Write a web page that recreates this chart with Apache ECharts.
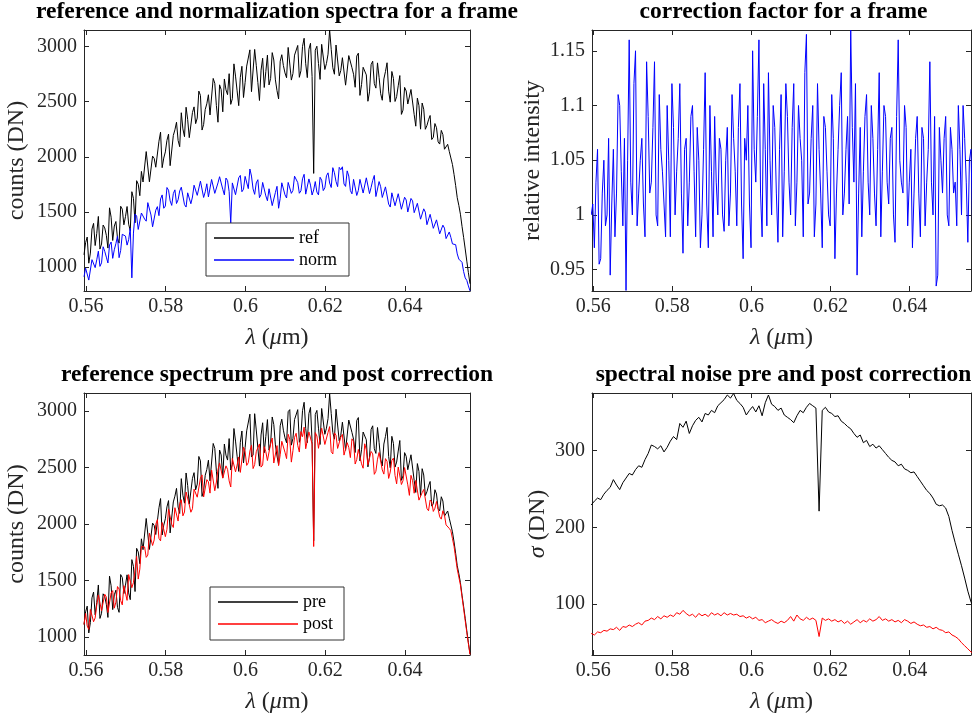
<!DOCTYPE html>
<html>
<head>
<meta charset="utf-8">
<title>spectra</title>
<script src="https://cdn.jsdelivr.net/npm/echarts@6/dist/echarts.min.js"></script>
<style>
  html, body { margin: 0; padding: 0; background: #fff; }
  #chart { width: 974px; height: 716px; }
</style>
</head>
<body>
<div id="chart"></div>
<script>
// wavelength samples (um) of the spectra
const lambdaFine = [
  0.5595, 0.5599, 0.5603, 0.5607, 0.5611, 0.5615, 0.5619, 0.5623, 0.5627, 0.5631,
  0.5635, 0.5639, 0.5643, 0.5647, 0.5651, 0.5655, 0.5659, 0.5663, 0.5667, 0.5671,
  0.5675, 0.5679, 0.5683, 0.5687, 0.5691, 0.5695, 0.5699, 0.5703, 0.5707, 0.5711,
  0.5715, 0.5719, 0.5723, 0.5727, 0.5731, 0.5735, 0.5739, 0.5743, 0.5747, 0.5751,
  0.5755, 0.5759, 0.5763, 0.5767, 0.5771, 0.5775, 0.5779, 0.5783, 0.5787, 0.5791,
  0.5795, 0.5799, 0.5803, 0.5807, 0.5811, 0.5815, 0.5819, 0.5823, 0.5827, 0.5831,
  0.5835, 0.5839, 0.5843, 0.5847, 0.5851, 0.5855, 0.5859, 0.5863, 0.5867, 0.5871,
  0.5875, 0.5879, 0.5883, 0.5887, 0.5891, 0.5895, 0.5899, 0.5903, 0.5907, 0.5911,
  0.5915, 0.5919, 0.5923, 0.5927, 0.5931, 0.5935, 0.5939, 0.5943, 0.5947, 0.5951,
  0.5955, 0.5959, 0.5963, 0.5967, 0.5971, 0.5975, 0.5979, 0.5983, 0.5987, 0.5991,
  0.5995, 0.5999, 0.6003, 0.6007, 0.6011, 0.6015, 0.6019, 0.6023, 0.6027, 0.6031,
  0.6035, 0.6039, 0.6043, 0.6047, 0.6051, 0.6055, 0.6059, 0.6063, 0.6067, 0.6071,
  0.6075, 0.6079, 0.6083, 0.6087, 0.6091, 0.6095, 0.6099, 0.6103, 0.6107, 0.6111,
  0.6115, 0.6119, 0.6123, 0.6127, 0.6131, 0.6135, 0.6139, 0.6143, 0.6147, 0.6151,
  0.6155, 0.6159, 0.6163, 0.6167, 0.6171, 0.6175, 0.6179, 0.6183, 0.6187, 0.6191,
  0.6195, 0.6199, 0.6203, 0.6207, 0.6211, 0.6215, 0.6219, 0.6223, 0.6227, 0.6231,
  0.6235, 0.6239, 0.6243, 0.6247, 0.6251, 0.6255, 0.6259, 0.6263, 0.6267, 0.6271,
  0.6275, 0.6279, 0.6283, 0.6287, 0.6291, 0.6295, 0.6299, 0.6303, 0.6307, 0.6311,
  0.6315, 0.6319, 0.6323, 0.6327, 0.6331, 0.6335, 0.6339, 0.6343, 0.6347, 0.6351,
  0.6355, 0.6359, 0.6363, 0.6367, 0.6371, 0.6375, 0.6379, 0.6383, 0.6387, 0.6391,
  0.6395, 0.6399, 0.6403, 0.6407, 0.6411, 0.6415, 0.6419, 0.6423, 0.6427, 0.6431,
  0.6435, 0.6439, 0.6443, 0.6447, 0.6451, 0.6455, 0.6459, 0.6463, 0.6467, 0.6471,
  0.6475, 0.6479, 0.6483, 0.6487, 0.6491, 0.6495, 0.6499, 0.6503, 0.6507, 0.6511,
  0.6515, 0.6519, 0.6523, 0.6527, 0.6531, 0.6535, 0.6539, 0.6543, 0.6547, 0.6551,
  0.6555, 0.6559, 0.6563
];

// wavelength samples (um) of the noise curves
const lambdaNoise = [
  0.5595, 0.5603, 0.5611, 0.5619, 0.5627, 0.5635, 0.5643, 0.5651, 0.5659, 0.5667,
  0.5675, 0.5683, 0.5691, 0.5699, 0.5707, 0.5715, 0.5723, 0.5731, 0.5739, 0.5747,
  0.5755, 0.5763, 0.5771, 0.5779, 0.5787, 0.5795, 0.5803, 0.5811, 0.5819, 0.5827,
  0.5835, 0.5843, 0.5851, 0.5859, 0.5867, 0.5875, 0.5883, 0.5891, 0.5899, 0.5907,
  0.5915, 0.5923, 0.5931, 0.5939, 0.5947, 0.5955, 0.5963, 0.5971, 0.5979, 0.5987,
  0.5995, 0.6003, 0.6011, 0.6019, 0.6027, 0.6035, 0.6043, 0.6051, 0.6059, 0.6067,
  0.6075, 0.6083, 0.6091, 0.6099, 0.6107, 0.6115, 0.6123, 0.6131, 0.6139, 0.6147,
  0.6155, 0.6163, 0.6171, 0.6179, 0.6187, 0.6195, 0.6203, 0.6211, 0.6219, 0.6227,
  0.6235, 0.6243, 0.6251, 0.6259, 0.6267, 0.6275, 0.6283, 0.6291, 0.6299, 0.6307,
  0.6315, 0.6323, 0.6331, 0.6339, 0.6347, 0.6355, 0.6363, 0.6371, 0.6379, 0.6387,
  0.6395, 0.6403, 0.6411, 0.6419, 0.6427, 0.6435, 0.6443, 0.6451, 0.6459, 0.6467,
  0.6475, 0.6483, 0.6491, 0.6499, 0.6507, 0.6515, 0.6523, 0.6531, 0.6539, 0.6547,
  0.6555, 0.6563
];

// reference spectrum (also "pre" in the lower plot)
const refCounts = [
  1112, 1222, 1273, 1036, 1128, 1346, 1397, 1196, 1306, 1460, 1164, 1210, 1382, 1356, 1289, 1173, 1538, 1453, 1242, 1373,
  1414, 1262, 1218, 1552, 1526, 1384, 1458, 1550, 1390, 1330, 1684, 1624, 1402, 1784, 1752, 1648, 1868, 1772, 1766, 2048,
  2042, 1774, 1771, 2007, 1986, 1906, 1898, 2142, 2224, 1902, 1989, 2045, 2150, 2206, 1920, 1922, 2194, 2245, 2314, 2149,
  2092, 2400, 2253, 2183, 2450, 2339, 2174, 2171, 2402, 2453, 2301, 2352, 2596, 2557, 2243, 2294, 2430, 2481, 2563, 2380,
  2390, 2711, 2667, 2466, 2314, 2653, 2609, 2408, 2706, 2608, 2564, 2754, 2476, 2527, 2843, 2732, 2598, 2464, 2721, 2821,
  2538, 2674, 2823, 2815, 2970, 2591, 2609, 2974, 2830, 2673, 2511, 2786, 2894, 2629, 2773, 2922, 2652, 2711, 2945, 2878,
  2698, 2600, 2525, 2867, 2926, 2828, 2761, 2717, 2992, 3010, 2696, 2755, 2922, 2909, 3010, 2721, 2780, 3001, 3075, 2844,
  2718, 2975, 3030, 2728, 1850, 2967, 3003, 2846, 2702, 3020, 3030, 2792, 2846, 2931, 3150, 2975, 2808, 2749, 3014, 3000,
  2734, 2783, 2899, 2894, 2650, 2658, 2918, 2908, 2808, 2749, 2631, 2914, 2940, 2557, 2655, 2812, 2802, 2743, 2504, 2589,
  2836, 2867, 2664, 2623, 2852, 2721, 2572, 2513, 2706, 2773, 2853, 2596, 2496, 2774, 2710, 2502, 2546, 2644, 2737, 2385,
  2424, 2630, 2597, 2479, 2482, 2611, 2614, 2383, 2278, 2533, 2464, 2251, 2488, 2432, 2250, 2284, 2336, 2375, 2157, 2178,
  2302, 2264, 2136, 2116, 2240, 2202, 2069, 2067, 2114, 2050, 1990, 1930, 1840, 1740, 1630, 1560, 1480, 1370, 1270, 1165,
  1055, 950, 850
];

// normalization spectrum
const normCounts = [
  913, 991, 989, 883, 878, 1068, 1083, 996, 1067, 1145, 1007, 1039, 1185, 1144, 1091, 1038, 1201, 1228, 1080, 1158,
  1214, 1280, 1086, 1152, 1298, 1301, 1282, 1200, 1249, 1354, 903, 1309, 1482, 1463, 1342, 1340, 1491, 1489, 1436, 1417,
  1585, 1597, 1473, 1366, 1378, 1517, 1549, 1467, 1618, 1655, 1534, 1554, 1722, 1698, 1601, 1560, 1667, 1701, 1577, 1611,
  1691, 1725, 1720, 1567, 1545, 1674, 1684, 1575, 1636, 1743, 1748, 1651, 1639, 1780, 1797, 1632, 1683, 1756, 1637, 1625,
  1795, 1783, 1669, 1674, 1764, 1820, 1803, 1706, 1655, 1808, 1786, 1684, 1400, 1764, 1776, 1657, 1652, 1810, 1832, 1684,
  1706, 1823, 1833, 1712, 1890, 1826, 1709, 1660, 1764, 1793, 1630, 1659, 1768, 1775, 1646, 1602, 1711, 1711, 1558, 1575,
  1677, 1733, 1534, 1624, 1765, 1770, 1656, 1627, 1768, 1761, 1669, 1696, 1825, 1813, 1767, 1670, 1692, 1801, 1842, 1662,
  1669, 1800, 1744, 1654, 1700, 1776, 1681, 1655, 1815, 1789, 1694, 1719, 1828, 1855, 1763, 1722, 1902, 1856, 1776, 1730,
  1905, 1883, 1910, 1754, 1732, 1873, 1826, 1695, 1665, 1796, 1808, 1650, 1696, 1796, 1810, 1672, 1669, 1810, 1798, 1667,
  1723, 1786, 1832, 1640, 1652, 1776, 1729, 1632, 1619, 1728, 1718, 1572, 1545, 1674, 1666, 1557, 1566, 1666, 1663, 1525,
  1539, 1634, 1609, 1500, 1492, 1623, 1601, 1494, 1506, 1579, 1583, 1435, 1439, 1529, 1499, 1385, 1372, 1479, 1466, 1352,
  1356, 1429, 1416, 1302, 1289, 1381, 1354, 1259, 1266, 1319, 1270, 1211, 1220, 1204, 1120, 1073, 1060, 1044, 960, 903,
  880, 830, 785
];

// reference spectrum after correction
const postCounts = [
  1110, 1208, 1097, 1067, 1244, 1246, 1135, 1169, 1282, 1372, 1366, 1232, 1226, 1378, 1353, 1217, 1208, 1389, 1410, 1255,
  1308, 1446, 1424, 1322, 1284, 1454, 1448, 1324, 1552, 1550, 1436, 1482, 1592, 1712, 1512, 1600, 1800, 1798, 1796, 1704,
  1724, 1918, 1919, 1809, 1858, 1996, 2038, 1872, 1850, 2012, 2013, 1887, 1952, 2132, 2136, 1996, 1968, 2143, 2142, 2025,
  2180, 2214, 2071, 2105, 2282, 2265, 2168, 2103, 2134, 2307, 2319, 2236, 2232, 2405, 2433, 2238, 2250, 2391, 2371, 2272,
  2476, 2473, 2293, 2370, 2478, 2539, 2535, 2404, 2416, 2513, 2482, 2380, 2326, 2579, 2591, 2460, 2520, 2592, 2455, 2447,
  2678, 2638, 2517, 2541, 2644, 2695, 2489, 2524, 2638, 2641, 2707, 2502, 2520, 2683, 2637, 2560, 2546, 2709, 2759, 2538,
  2524, 2692, 2515, 2611, 2730, 2738, 2633, 2577, 2792, 2749, 2546, 2647, 2764, 2801, 2694, 2635, 2816, 2771, 2855, 2664,
  2666, 2813, 2815, 2706, 1800, 2807, 2777, 2668, 2654, 2846, 2850, 2702, 2702, 2809, 2860, 2639, 2618, 2805, 2784, 2667,
  2678, 2767, 2791, 2608, 2600, 2718, 2676, 2586, 2752, 2729, 2529, 2570, 2658, 2667, 2531, 2492, 2708, 2655, 2522, 2533,
  2640, 2619, 2438, 2465, 2572, 2631, 2626, 2477, 2440, 2577, 2553, 2402, 2458, 2560, 2582, 2428, 2354, 2502, 2489, 2348,
  2382, 2498, 2485, 2345, 2252, 2429, 2382, 2271, 2384, 2385, 2210, 2227, 2276, 2304, 2316, 2136, 2116, 2211, 2193, 2110,
  2138, 2198, 2194, 2062, 2042, 2116, 2077, 1991, 1984, 1960, 1940, 1870, 1800, 1700, 1600, 1530, 1460, 1355, 1250, 1145,
  1040, 940, 845
];

// correction factor
const corrFactor = [
  1.00, 1.01, 0.97, 1.03, 1.06, 0.955, 0.96, 1.02, 1.05, 0.99, 1.00, 1.07, 0.945, 1.01, 1.06, 0.98, 1.02, 1.11, 1.10, 1.04,
  0.99, 1.07, 0.931, 1.05, 1.16, 1.03, 1.00, 1.12, 1.15, 0.99, 1.02, 1.05, 1.07, 1.01, 0.98, 1.14, 1.09, 1.02, 1.03, 1.08,
  1.14, 1.00, 0.99, 1.11, 1.06, 1.04, 1.01, 0.98, 1.10, 1.05, 0.98, 1.12, 1.08, 1.00, 1.04, 1.07, 1.12, 1.02, 0.965, 1.06,
  1.07, 0.99, 1.03, 1.09, 1.10, 1.04, 0.98, 1.08, 1.05, 0.97, 1.00, 1.06, 1.13, 1.01, 0.97, 1.10, 1.04, 0.98, 1.09, 1.03,
  1.00, 1.07, 1.06, 1.00, 0.985, 1.05, 1.08, 0.99, 1.02, 1.11, 1.07, 1.04, 0.99, 1.08, 1.12, 1.01, 0.96, 1.07, 1.05, 1.10,
  1.01, 0.97, 1.15, 1.06, 1.03, 1.09, 1.16, 1.02, 0.98, 1.12, 1.06, 0.99, 1.13, 1.05, 1.00, 1.10, 1.08, 1.02, 0.975, 1.06,
  1.11, 0.98, 1.04, 1.12, 1.09, 1.03, 1.00, 1.08, 1.12, 0.99, 1.03, 1.10, 1.07, 1.05, 0.98, 1.13, 1.165, 1.01, 1.02, 1.07,
  1.10, 0.98, 1.01, 1.12, 1.06, 1.02, 0.97, 1.09, 1.08, 1.04, 1.00, 0.99, 1.11, 1.07, 0.96, 1.02, 1.06, 1.10, 1.13, 1.00,
  1.02, 1.06, 1.09, 1.01, 1.169, 1.08, 1.03, 1.12, 0.945, 1.02, 1.08, 0.98, 1.04, 1.09, 1.11, 1.03, 1.00, 1.10, 1.07, 1.02,
  0.99, 1.06, 1.13, 0.98, 1.04, 1.10, 1.09, 1.03, 1.01, 1.07, 1.08, 1.00, 0.975, 1.09, 1.16, 1.05, 1.03, 1.02, 1.10, 1.08,
  0.99, 1.03, 1.06, 0.97, 1.02, 1.07, 1.09, 1.02, 0.98, 1.08, 1.07, 0.99, 1.03, 1.06, 1.14, 1.03, 1.00, 1.09, 0.935, 0.945,
  1.08, 1.05, 1.02, 1.07, 1.09, 1.00, 0.99, 1.08, 1.06, 1.02, 1.03, 0.99, 1.10, 1.06, 1.00, 1.10, 1.07, 1.03, 0.975, 1.05,
  1.06, 0.99, 1.03
];

// spectral noise before / after correction (DN)
const sigmaPre = [
  229, 234, 238, 236, 243, 248, 252, 262, 255, 249,
  258, 264, 270, 268, 275, 280, 278, 288, 296, 307,
  305, 302, 306, 298, 304, 312, 318, 314, 335, 330,
  338, 322, 332, 339, 343, 337, 348, 346, 352, 349,
  358, 362, 366, 372, 368, 374, 365, 361, 356, 346,
  352, 357, 350, 358, 345, 362, 372, 360, 357, 352,
  355, 346, 343, 340, 336, 345, 352, 349, 356, 361,
  358, 355, 221, 352, 356, 350, 348, 344, 345, 338,
  335, 331, 328, 322, 317, 320, 310, 313, 305, 308,
  303, 306, 301, 296, 291, 287, 285, 280, 282, 276,
  274, 271, 272, 266, 260, 254, 248, 244, 238, 230,
  228, 229, 225, 214, 196, 180, 165, 150, 134, 117,
  103, 95
];
const sigmaPost = [
  62, 60, 64, 63, 66, 65, 68, 67, 70, 66,
  71, 70, 73, 71, 74, 76, 73, 78, 79, 82,
  80, 84, 81, 85, 83, 86, 84, 89, 87, 92,
  88, 85, 87, 83, 88, 85, 87, 84, 89, 86,
  88, 85, 89, 86, 88, 86, 87, 84, 85, 82,
  84, 81, 83, 79, 80, 76, 78, 80, 77, 75,
  78, 76, 79, 84, 78, 86, 81, 79, 83, 80,
  82, 79, 58, 82, 79, 81, 78, 80, 77, 79,
  75, 78, 74, 77, 80, 76, 79, 77, 81, 78,
  80, 84, 79, 81, 78, 80, 77, 79, 76, 80,
  78, 75, 77, 74, 72, 73, 70, 71, 68, 70,
  67, 66, 63, 64, 60, 58, 55, 50, 46, 42,
  38, 35
];

const FONT = 'Liberation Serif';
const AXIS_COLOR = '#262626';

const panels = [
  { left: 84, top: 30, width: 386, height: 261, x: [0.5595, 0.6563], y: [784, 3150], yStep: 500, ySplit: 5,
    yName: 'counts (DN)', yGap: 55, title: 'reference and normalization spectra for a frame' },
  { left: 592, top: 30, width: 383, height: 261, x: [0.5597, 0.6555], y: [0.9305, 1.169], yStep: 0.05, ySplit: 5,
    yName: 'relative intensity', yGap: 47, title: 'correction factor for a frame' },
  { left: 84, top: 393, width: 386, height: 262, x: [0.5595, 0.6563], y: [841, 3157], yStep: 500, ySplit: 5,
    yName: 'counts (DN)', yGap: 55, title: 'reference spectrum pre and post correction' },
  { left: 592, top: 393, width: 383, height: 262, x: [0.5597, 0.6555], y: [34, 374.6], yStep: 100, ySplit: 3,
    yName: '{i|σ} (DN)', yGap: 42, title: 'spectral noise pre and post correction' }
];

function pairs(xs, ys) {
  return xs.map((x, k) => [x, ys[k]]);
}

function onStep(v, step) {
  const k = v / step;
  return Math.abs(k - Math.round(k)) < 1e-6;
}

const nameStyle = {
  fontFamily: FONT,
  fontSize: 24,
  color: AXIS_COLOR,
  rich: { i: { fontFamily: FONT, fontSize: 24, fontStyle: 'italic', color: AXIS_COLOR } }
};

const lineAxis = { show: true, onZero: false, lineStyle: { color: AXIS_COLOR, width: 1 } };
const tickAxis = { show: true, inside: true, length: 5, lineStyle: { color: AXIS_COLOR, width: 1 } };

const grids = [];
const xAxes = [];
const yAxes = [];
const titles = [];

panels.forEach((p, g) => {
  grids.push({ left: p.left, top: p.top, width: p.width, height: p.height, containLabel: false });

  // bottom axis with labels, top axis only closes the box
  xAxes.push({
    gridIndex: g, type: 'value', position: 'bottom', min: p.x[0], max: p.x[1], splitNumber: 5,
    axisLine: lineAxis, axisTick: tickAxis, splitLine: { show: false },
    axisLabel: {
      margin: 6, fontFamily: FONT, fontSize: 20, color: AXIS_COLOR,
      formatter: (v) => onStep(v, 0.02) ? String(+v.toFixed(2)) : ''
    },
    name: '{i|λ} ({i|μ}m)', nameLocation: 'middle', nameGap: 35, nameTextStyle: nameStyle
  });
  xAxes.push({
    gridIndex: g, type: 'value', position: 'top', min: p.x[0], max: p.x[1], splitNumber: 5,
    axisLine: lineAxis, axisTick: tickAxis, splitLine: { show: false }, axisLabel: { show: false }
  });

  yAxes.push({
    gridIndex: g, type: 'value', position: 'left', min: p.y[0], max: p.y[1], splitNumber: p.ySplit,
    axisLine: lineAxis, axisTick: tickAxis, splitLine: { show: false },
    axisLabel: {
      margin: 7, fontFamily: FONT, fontSize: 20, color: AXIS_COLOR,
      formatter: (v) => onStep(v, p.yStep) ? String(+v.toFixed(2)) : ''
    },
    name: p.yName, nameLocation: 'middle', nameGap: p.yGap, nameTextStyle: nameStyle
  });
  yAxes.push({
    gridIndex: g, type: 'value', position: 'right', min: p.y[0], max: p.y[1], splitNumber: p.ySplit,
    axisLine: lineAxis, axisTick: tickAxis, splitLine: { show: false }, axisLabel: { show: false }
  });

  titles.push({
    text: p.title, left: p.left + p.width / 2, top: p.top - 30, textAlign: 'center', padding: 0,
    textStyle: { fontFamily: FONT, fontSize: 23.5, fontWeight: 'bold', color: '#000' }
  });
});

function lineSeries(name, g, xs, ys, color) {
  return {
    name, type: 'line', xAxisIndex: 2 * g, yAxisIndex: 2 * g, data: pairs(xs, ys),
    symbol: 'none', showSymbol: false, smooth: false, sampling: null,
    lineStyle: { color, width: 1 }, itemStyle: { color }
  };
}

const legendBase = {
  orient: 'vertical', icon: 'rect', itemWidth: 80, itemHeight: 1.5, itemGap: 4,
  backgroundColor: '#fff', borderColor: '#333', borderWidth: 1,
  textStyle: { fontFamily: FONT, fontSize: 18, color: '#000' }
};

const option = {
  animation: false,
  title: titles,
  grid: grids,
  xAxis: xAxes,
  yAxis: yAxes,
  legend: [
    Object.assign({}, legendBase, { data: ['ref', 'norm'], left: 206, top: 223, padding: [6, 12, 7, 8] }),
    Object.assign({}, legendBase, { data: ['pre', 'post'], left: 210, top: 587, padding: [6, 11, 7, 8] })
  ],
  series: [
    lineSeries('ref', 0, lambdaFine, refCounts, '#000000'),
    lineSeries('norm', 0, lambdaFine, normCounts, '#0000ff'),
    lineSeries('corr', 1, lambdaFine, corrFactor, '#0000ff'),
    lineSeries('pre', 2, lambdaFine, refCounts, '#000000'),
    lineSeries('post', 2, lambdaFine, postCounts, '#ff0000'),
    lineSeries('σ pre', 3, lambdaNoise, sigmaPre, '#000000'),
    lineSeries('σ post', 3, lambdaNoise, sigmaPost, '#ff0000')
  ]
};

const chart = echarts.init(document.getElementById('chart'), null, { renderer: 'canvas' });
chart.setOption(option);
</script>
</body>
</html>
